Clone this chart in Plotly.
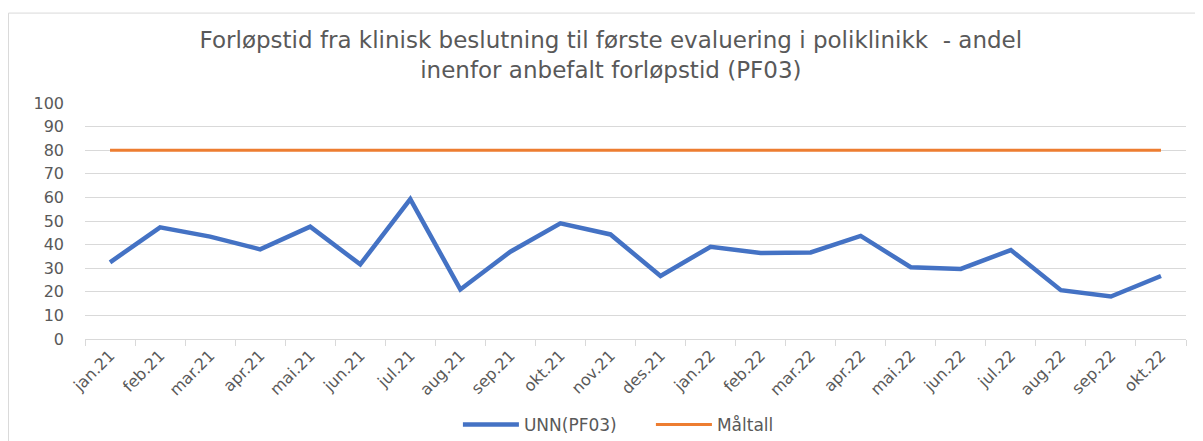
import plotly.graph_objects as go

months = ["jan.21", "feb.21", "mar.21", "apr.21", "mai.21", "jun.21", "jul.21", "aug.21",
          "sep.21", "okt.21", "nov.21", "des.21", "jan.22", "feb.22", "mar.22", "apr.22",
          "mai.22", "jun.22", "jul.22", "aug.22", "sep.22", "okt.22"]
unn_pf03 = [32.5, 47.3, 43.4, 38.0, 47.6, 31.6, 59.3, 21.0, 37.0, 49.0, 44.3, 26.7,
            39.1, 36.4, 36.7, 43.7, 30.4, 29.7, 37.7, 20.7, 18.0, 26.7]
maltall = [80] * len(months)
y_ticks = list(range(0, 101, 10))

title_text = ("Forløpstid fra klinisk beslutning til første evaluering i poliklinikk  - andel"
              "<br>inenfor anbefalt forløpstid (PF03)")

FONT = "DejaVu Sans"
GREY = "#595959"
GRID = "#D9D9D9"

fig = go.Figure()
fig.add_trace(go.Scatter(x=months, y=unn_pf03, mode="lines", name="UNN(PF03)",
                         line=dict(color="#4472C4", width=4.5)))
fig.add_trace(go.Scatter(x=months, y=maltall, mode="lines", name="Måltall",
                         line=dict(color="#ED7D31", width=3)))

fig.update_layout(
    width=1195, height=433,
    paper_bgcolor="white", plot_bgcolor="white",
    margin=dict(l=77, r=17, t=95, b=102, autoexpand=False),
    font=dict(family=FONT, color=GREY, size=16),
    title=dict(text=title_text, x=0.5045, xanchor="center", y=0.908, yanchor="top",
               yref="container", font=dict(family=FONT, size=23, color=GREY)),
    showlegend=True,
    legend=dict(orientation="h", x=0.514, xanchor="center", y=-0.364, yanchor="middle",
                itemwidth=56, entrywidth=122,
                font=dict(family=FONT, size=17, color=GREY), bgcolor="rgba(0,0,0,0)"),
    xaxis=dict(type="category", range=[-0.5, len(months) - 0.5], showgrid=False,
               showline=True, linecolor=GRID, linewidth=1,
               ticks="outside", tickson="boundaries", ticklen=6, tickcolor=GRID,
               tickangle=-45, tickfont=dict(family=FONT, size=16, color=GREY)),
    yaxis=dict(range=[0, 100], tickvals=y_ticks, showgrid=True, gridcolor=GRID, gridwidth=1,
               zeroline=False, showline=False, ticks="", ticklabelstandoff=20,
               tickfont=dict(family=FONT, size=16, color=GREY)),
    shapes=[dict(type="rect", xref="paper", yref="paper", x0=-0.0695, x1=1.2,
                 y0=-1.0, y1=1.381, line=dict(color=GRID, width=1),
                 fillcolor="rgba(0,0,0,0)", layer="below")],
)

fig.write_html("out.html")
